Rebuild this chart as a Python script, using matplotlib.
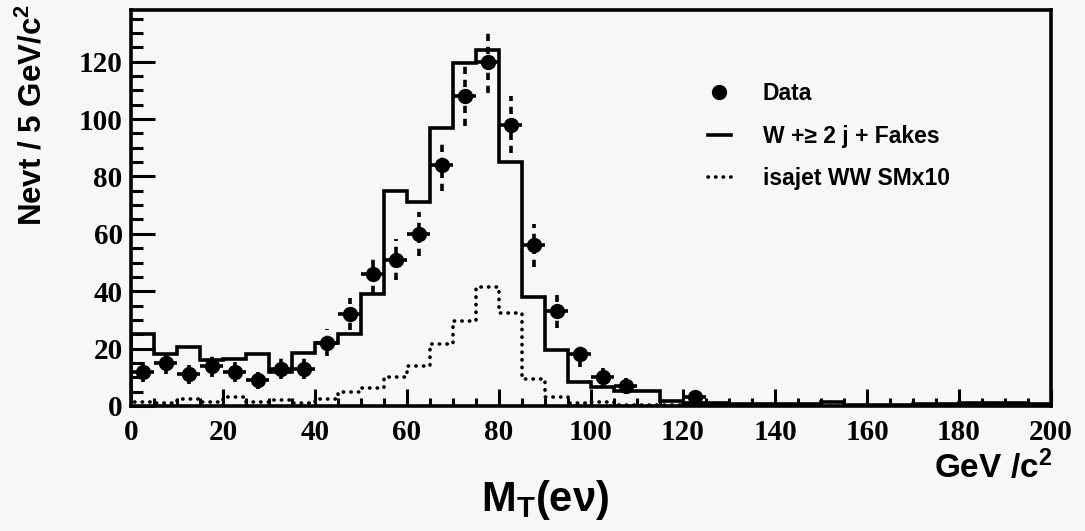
import numpy as np
import matplotlib.pyplot as plt
from matplotlib.lines import Line2D
from matplotlib.ticker import MultipleLocator

plt.rcParams['mathtext.fontset'] = 'custom'
plt.rcParams['mathtext.rm'] = 'Liberation Sans:bold'
plt.rcParams['mathtext.bf'] = 'Liberation Sans:bold'
plt.rcParams['mathtext.it'] = 'Liberation Sans:bold'

bin_edges = np.arange(0, 205, 5)

# observed events per 5 GeV/c^2 bin
data_counts = [12, 15, 11, 14, 12, 9, 13, 13, 22, 32,
               46, 51, 60, 84, 108, 120, 98, 56, 33, 18,
               10, 7, 0, 0, 3, 0, 0, 0, 0, 0,
               0, 0, 0, 0, 0, 0, 0, 0, 0, 0]

# W + >=2 jets + fakes expectation
bkg_counts = [25, 18, 20.5, 16, 16.5, 18, 12, 18.5, 22, 25,
              39, 75, 71, 97, 119.5, 124, 85, 38, 19.5, 8.5,
              6.5, 5.2, 5.2, 1.7, 1, 1, 0.7, 0.7, 0.7, 0.7,
              1.5, 0.5, 0.5, 0.5, 0.7, 0.7, 1.2, 1.2, 1.0, 0.8]

# isajet WW standard model prediction, scaled by 10
ww_counts = [1.5, 1, 2.5, 1.5, 3, 1.5, 2, 1, 2.5, 5,
             6.4, 10, 14, 21.7, 29.5, 41.5, 32.3, 9.5, 3, 1.2,
             1.5, 0.5, 0.3, 0.2, 0, 0, 0, 0, 0, 0,
             0, 0, 0, 0, 0, 0, 0, 0, 0, 0]

labels = ['Data', 'W +\u2265 2 j + Fakes', 'isajet WW SMx10']

bg = '#f7f7f7'
dotted = (0, (0.1, 2))
sans = ['Liberation Sans', 'DejaVu Sans']

fig = plt.figure(figsize=(10.85, 5.31), dpi=100, facecolor=bg)
ax = fig.add_axes([131 / 1085, 1 - 406 / 531, 920 / 1085, 396 / 531])
ax.set_facecolor(bg)

ax.stairs(bkg_counts, bin_edges, color='black', lw=2.6)
ww = ax.stairs(ww_counts, bin_edges, color='black', lw=2.6, linestyle=dotted)
ww.set_capstyle('round')

centers = bin_edges[:-1] + 2.5
counts = np.array(data_counts, dtype=float)
m = counts > 0
eb = ax.errorbar(centers[m], counts[m], xerr=2.5, yerr=np.sqrt(counts[m]),
                 fmt='o', color='black', ms=10, elinewidth=2.6, capsize=0)
eb[2][1].set_linestyle((0, (2, 1.6)))

ax.set_xlim(0, 200)
ax.set_ylim(0, 138)
ax.xaxis.set_major_locator(MultipleLocator(20))
ax.xaxis.set_minor_locator(MultipleLocator(5))
ax.yaxis.set_major_locator(MultipleLocator(20))
ax.yaxis.set_minor_locator(MultipleLocator(5))
ax.tick_params(which='both', direction='in', top=False, right=False, width=2.2)
ax.tick_params(axis='x', which='major', length=12, pad=9)
ax.tick_params(axis='x', which='minor', length=6)
ax.tick_params(axis='y', which='major', length=17, pad=6)
ax.tick_params(axis='y', which='minor', length=8.5)
for lab in ax.get_xticklabels() + ax.get_yticklabels():
    lab.set_fontfamily('Liberation Serif')
    lab.set_fontweight('bold')
    lab.set_fontsize(21)
for sp in ax.spines.values():
    sp.set_linewidth(2.6)

handles = [Line2D([], [], marker='o', ls='none', color='black', ms=10),
           Line2D([], [], color='black', lw=2.6),
           Line2D([], [], color='black', lw=2.6, ls=dotted, dash_capstyle='round')]
ax.legend(handles, labels, loc='upper left', bbox_to_anchor=(0.627, 0.818),
          frameon=False, prop={'family': sans, 'weight': 'bold', 'size': 16.5},
          handlelength=1.0, handletextpad=1.4, labelspacing=0.86,
          borderpad=0, borderaxespad=0)

fig.text(33 / 1085, 1 - 4 / 531, 'Nevt / 5 GeV/c$^2$', rotation=90,
         ha='center', va='top', fontsize=22.5, fontweight='bold', family=sans)
fig.text(1052 / 1085, 1 - 478 / 531, 'GeV /c$^2$', ha='right', va='baseline',
         fontsize=24, fontweight='bold', family=sans)
fig.text(545 / 1085, 1 - 500 / 531, r'M$_T$(e$\nu$)', ha='center', va='center',
         fontsize=30, fontweight='bold', family=sans)

fig.savefig('out.png', dpi=100, facecolor=bg)
